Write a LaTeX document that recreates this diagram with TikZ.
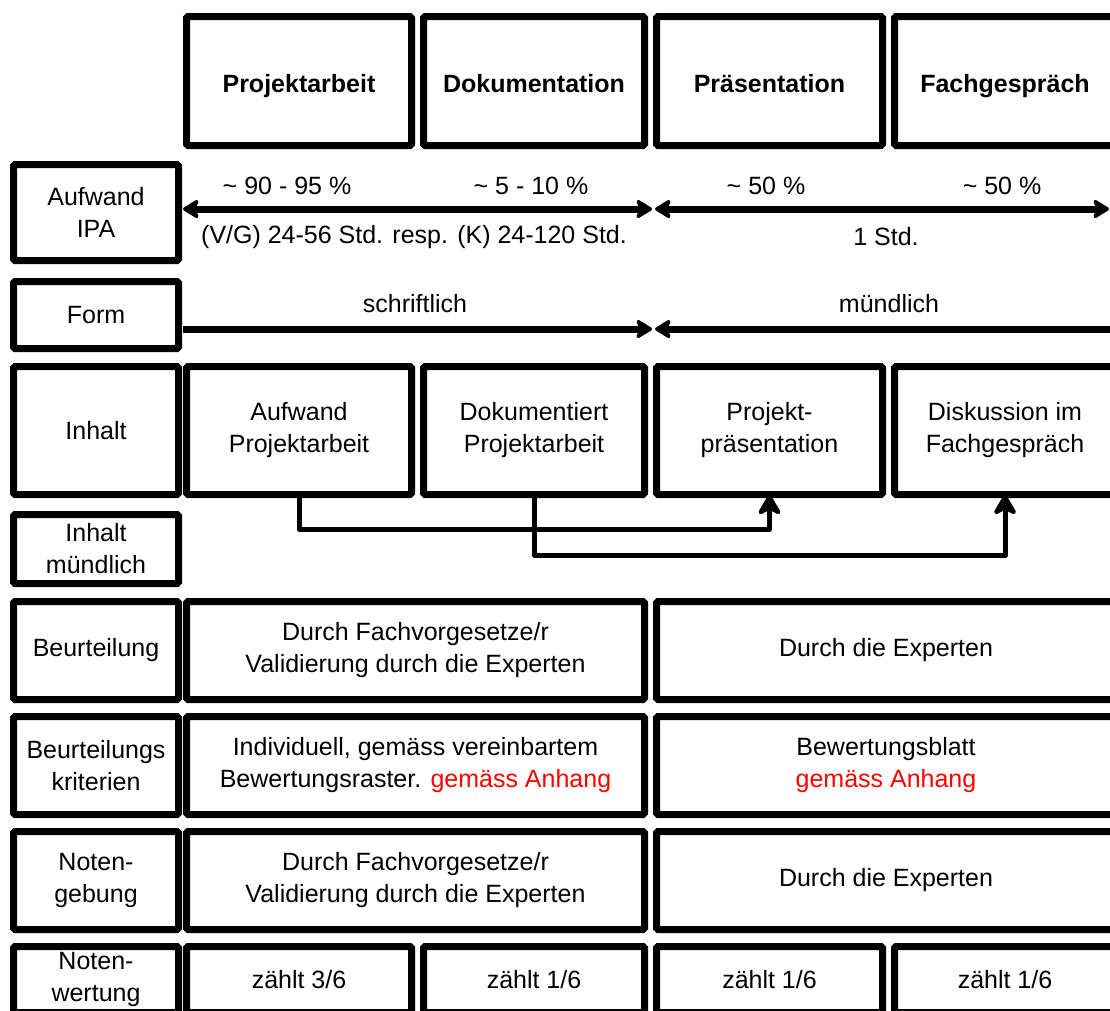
\documentclass[tikz,border=0pt]{standalone}
\usepackage{fontspec}
\setmainfont{Liberation Sans}
\usetikzlibrary{arrows.meta}

\tikzset{
  cellbox/.style={draw=black, fill=white, line width=7pt, inner sep=0pt,
    rounded corners=1.5pt, align=center,
    font=\fontsize{25}{32}\selectfont},
  head/.style={cellbox, font=\fontsize{25}{32}\selectfont\bfseries,
    text height=22pt, text depth=0pt},
  txt/.style={inner sep=0pt, font=\fontsize{25}{32}\selectfont},
  span/.style={line width=7pt},
  link/.style={line width=5pt, line join=round},
  bigtip/.tip={Stealth[length=19pt, width=23pt, inset=5pt, round]},
  uptip/.tip={Stealth[length=24pt, width=28pt, inset=7pt, round]},
}

% box from (x1,y1) to (x2,y2), pixel coordinates, y downwards
\newcommand{\ipabox}[7][cellbox]{%
  \node[#1, minimum width={#5-#3-7}, minimum height={#6-#4-7}]
    (#2) at ({(#3+#5)/2}, {(#4+#6)/2+1}) {#7};}

\begin{document}
\begin{tikzpicture}[x=1pt, y=-1pt]
  \useasboundingbox (0,0) rectangle (1110,1010);
  \clip (0,0) rectangle (1110,1010);

  % header
  \ipabox[head]{hProj}{183}{12}{415}{148}{Projektarbeit}
  \ipabox[head]{hDoku}{420}{12}{648}{148}{Dokumentation}
  \ipabox[head]{hPraes}{653}{12}{886}{148}{Präsentation}
  \ipabox[head]{hFach}{891}{12}{1119}{148}{Fachgespräch}

  % Aufwand IPA
  \ipabox{lIpa}{10}{160}{182}{263}{Aufwand\\IPA}
  \coordinate (a0) at (183,209);
  \coordinate (a1) at (652,209);
  \coordinate (a2) at (655,209);
  \coordinate (a3) at (1109,209);
  \draw[span, bigtip-bigtip] (a0) -- (a1);
  \draw[span, bigtip-bigtip] (a2) -- (a3);
  \node[txt] (pProj) at (287,186) {\textasciitilde{} 90 - 95 \%};
  \node[txt] (pDoku) at (531,186) {\textasciitilde{} 5 - 10 \%};
  \node[txt] (pPraes) at (766,186) {\textasciitilde{} 50 \%};
  \node[txt] (pFach) at (1002,186) {\textasciitilde{} 50 \%};
  \node[txt] (sSchr) at (414,237) {(V/G) 24-56 Std. resp. (K) 24-120 Std.};
  \node[txt] (sMuend) at (886,237) {1 Std.};

  % Form
  \ipabox{lForm}{10}{277}{182}{351}{Form}
  \coordinate (f0) at (183,329);
  \coordinate (f1) at (652,329);
  \coordinate (f2) at (655,329);
  \coordinate (f3) at (1115,329);
  \draw[span, -bigtip] (f0) -- (f1);
  \draw[span, bigtip-] (f2) -- (f3);
  \node[txt] (fSchr) at (415,304) {schriftlich};
  \node[txt] (fMuend) at (889,304) {mündlich};

  % Inhalt
  \ipabox{lInh}{10}{362}{182}{497}{Inhalt}
  \ipabox{aufw}{183}{362}{415}{497}{Aufwand\\Projektarbeit}
  \ipabox{doku}{420}{362}{648}{497}{Dokumentiert\\Projektarbeit}
  \ipabox{praes}{653}{362}{886}{497}{Projekt-\\präsentation}
  \ipabox{disk}{891}{362}{1119}{497}{Diskussion im\\Fachgespräch}

  % Inhalt muendlich
  \ipabox{lInhM}{10}{510}{182}{586}{Inhalt\\mündlich}
  \draw[link, -uptip, shorten >=-3pt] (aufw.south) -- (aufw.south |- 0,529) -| (praes.south);
  \draw[link, -uptip, shorten >=-3pt] (doku.south) -- (doku.south |- 0,555) -| (disk.south);

  % Beurteilung
  \ipabox{lBeu}{10}{597}{182}{702}{Beurteilung}
  \ipabox{beuS}{183}{597}{648}{702}{Durch Fachvorgesetze/r\\Validierung durch die Experten}
  \ipabox{beuM}{653}{597}{1119}{702}{Durch die Experten}

  % Beurteilungskriterien
  \ipabox{lKrit}{10}{712}{182}{817}{Beurteilungs\\kriterien}
  \ipabox{kritS}{183}{712}{648}{817}{Individuell, gemäss vereinbartem\\Bewertungsraster. {\color{red}gemäss Anhang}}
  \ipabox{kritM}{653}{712}{1119}{817}{Bewertungsblatt\\{\color{red}gemäss Anhang}}

  % Notengebung
  \ipabox{lGeb}{10}{827}{182}{932}{Noten-\\gebung}
  \ipabox{gebS}{183}{827}{648}{932}{Durch Fachvorgesetze/r\\Validierung durch die Experten}
  \ipabox{gebM}{653}{827}{1119}{932}{Durch die Experten}

  % Notenwertung
  \ipabox{lWert}{10}{942}{182}{1015}{Noten-\\wertung}
  \ipabox{wProj}{183}{942}{415}{1015}{zählt 3/6}
  \ipabox{wDoku}{420}{942}{648}{1015}{zählt 1/6}
  \ipabox{wPraes}{653}{942}{886}{1015}{zählt 1/6}
  \ipabox{wFach}{891}{942}{1119}{1015}{zählt 1/6}
\end{tikzpicture}
\end{document}
